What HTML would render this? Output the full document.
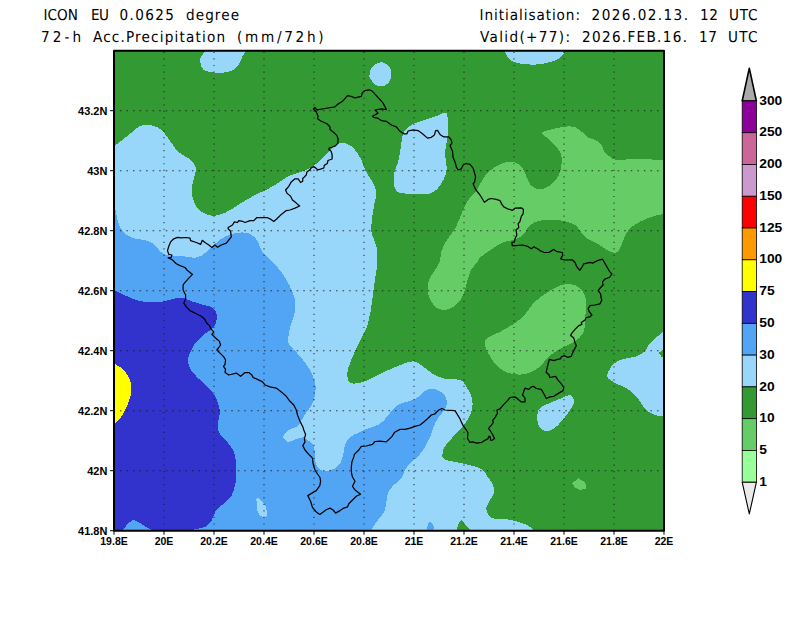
<!DOCTYPE html>
<html lang="en"><head><meta charset="utf-8"><title>ICON EU 72-h Acc.Precipitation</title>
<style>
html,body{margin:0;padding:0;background:#fff;}
body{width:800px;height:618px;position:relative;overflow:hidden;font-family:"Liberation Sans",Arial,sans-serif;}
</style></head><body>
<svg width="800" height="618" viewBox="0 0 800 618" style="position:absolute;left:0;top:0">
<rect width="800" height="618" fill="#fff"/>
<defs><clipPath id="pc"><rect x="114.0" y="50.7" width="550.0" height="480.0"/></clipPath></defs>
<g clip-path="url(#pc)" shape-rendering="crispEdges">
<rect x="114.0" y="50.7" width="550.0" height="480.0" fill="#339933"/>
<path d="M480.0,184.3C481.2,182.4 484.6,176.1 487.5,173.0C490.4,169.9 494.2,167.4 497.6,165.5C501.0,163.6 504.5,162.1 507.6,161.7C510.7,161.3 513.9,161.8 516.4,162.9C518.9,164.0 521.0,165.7 522.7,168.0C524.4,170.3 525.1,174.0 526.4,176.7C527.6,179.4 528.3,182.2 530.2,184.3C532.1,186.4 534.8,188.9 537.7,189.3C540.6,189.7 544.7,188.5 547.8,186.8C550.9,185.1 554.3,182.2 556.5,179.3C558.7,176.4 559.9,172.8 560.8,169.2C561.6,165.6 561.9,161.0 561.6,157.9C561.3,154.8 560.9,153.3 559.0,150.4C557.1,147.5 553.1,143.3 550.3,140.4C547.5,137.5 541.8,134.7 542.2,132.8C542.6,130.9 548.9,130.1 552.8,129.1C556.6,128.1 561.5,126.9 565.3,126.6C569.1,126.3 572.5,126.3 575.4,127.3C578.3,128.3 580.8,131.1 582.9,132.8C585.0,134.5 585.8,136.1 587.9,137.3C590.0,138.5 593.1,138.6 595.4,139.9C597.7,141.2 600.2,143.4 601.7,145.4C603.2,147.4 602.7,149.7 604.2,151.7C605.7,153.7 608.4,155.9 610.5,157.2C612.6,158.5 612.6,159.4 616.8,159.7C621.0,160.0 629.1,159.2 635.6,159.2C642.1,159.2 650.3,159.4 655.7,159.7C661.1,160.0 666.0,160.8 668.0,161.0L668.0,213.0C665.5,213.6 657.7,214.9 653.1,216.3C648.5,217.7 644.4,219.5 640.6,221.4C636.9,223.3 633.1,225.3 630.6,227.6C628.1,229.9 627.0,232.5 625.5,235.2C624.0,237.9 623.0,241.3 621.8,244.0C620.5,246.7 619.5,250.1 618.0,251.5C616.5,252.9 615.1,253.1 613.0,252.7C610.9,252.3 608.0,250.4 605.5,249.0C603.0,247.6 600.8,245.7 597.9,244.0C595.0,242.3 590.6,240.8 587.9,238.9C585.2,237.0 583.7,235.0 581.6,232.7C579.5,230.4 578.1,227.0 575.4,225.1C572.7,223.2 569.1,222.3 565.3,221.4C561.5,220.5 557.0,219.7 552.8,219.6C548.6,219.5 544.0,219.7 540.2,220.6C536.4,221.5 533.1,222.7 530.2,225.1C527.3,227.5 525.6,232.7 522.7,235.2C519.8,237.7 516.0,238.9 512.6,240.2C509.2,241.4 506.4,241.0 502.6,242.7C498.8,244.4 493.8,247.7 490.0,250.2C486.2,252.7 482.2,255.7 480.0,257.8C477.8,259.9 478.6,260.7 477.0,262.8C475.4,264.9 472.4,267.0 470.7,270.3C469.0,273.6 468.2,278.6 466.9,282.8C465.6,287.0 464.8,291.8 463.1,295.4C461.4,299.0 459.4,301.9 456.9,304.2C454.4,306.5 451.0,308.4 448.1,309.2C445.2,310.0 441.8,310.0 439.3,309.2C436.8,308.4 434.8,306.5 433.0,304.2C431.2,301.9 429.3,299.0 428.5,295.4C427.7,291.8 427.2,286.6 428.0,282.8C428.8,279.0 431.1,276.1 433.0,272.8C434.9,269.5 437.8,266.6 439.3,262.8C440.8,259.0 440.6,254.0 441.8,250.2C443.1,246.4 444.5,244.0 446.8,240.2C449.1,236.4 453.1,232.2 455.6,227.6C458.1,223.0 459.8,217.2 461.9,212.6C464.0,208.0 465.7,203.8 468.2,200.0C470.7,196.2 475.0,192.6 477.0,190.0C479.0,187.4 479.5,185.2 480.0,184.3Z" fill="#66cc66"/>
<path d="M485.0,345.0C484.6,341.9 485.0,340.2 487.5,338.0C490.0,335.8 495.4,334.3 500.0,331.8C504.6,329.3 510.9,325.9 515.1,323.0C519.3,320.1 522.3,317.3 525.2,314.2C528.1,311.1 529.8,307.3 532.7,304.2C535.6,301.1 538.9,298.1 542.7,295.4C546.5,292.7 551.5,289.8 555.3,287.9C559.1,286.0 561.9,284.5 565.3,284.1C568.6,283.7 572.5,284.1 575.4,285.4C578.3,286.6 581.1,289.1 582.9,291.6C584.6,294.1 585.5,296.4 585.9,300.4C586.3,304.4 585.7,310.5 585.4,315.5C585.1,320.5 585.1,326.8 584.1,330.5C583.1,334.2 581.4,335.8 579.1,338.0C576.8,340.2 573.8,341.8 570.3,343.8C566.8,345.8 561.5,347.8 557.8,350.1C554.0,352.4 550.5,355.1 547.8,357.6C545.1,360.1 544.0,362.8 541.5,365.1C539.0,367.4 536.2,369.8 532.7,371.4C529.2,373.0 524.4,374.4 520.2,374.6C516.0,374.8 511.4,374.0 507.6,372.6C503.8,371.2 500.5,369.1 497.6,366.4C494.7,363.7 492.1,359.9 490.0,356.3C487.9,352.7 485.4,348.1 485.0,345.0Z" fill="#66cc66"/>
<path d="M578.4,478.2 L585.4,482.7 L585.9,489.0 L579.1,489.8 L574.9,487.3 L572.3,483.2Z" fill="#66cc66"/>
<path d="M110.0,148.0C110.8,147.6 112.5,147.1 115.0,145.4C117.5,143.7 122.3,139.9 125.0,137.8C127.7,135.7 128.8,134.8 131.2,132.9C133.6,131.0 136.9,127.8 139.3,126.4C141.7,125.1 143.4,124.9 145.8,124.8C148.2,124.7 151.5,125.2 153.9,125.9C156.3,126.6 158.3,127.7 160.0,128.8C161.7,130.0 162.1,130.5 164.0,132.8C165.9,135.2 169.2,139.8 171.5,142.9C173.8,146.0 175.1,149.1 177.8,151.6C180.5,154.1 185.1,155.8 187.8,157.9C190.5,160.0 192.8,162.1 194.1,164.2C195.4,166.3 196.0,167.8 195.9,170.5C195.8,173.2 194.0,177.2 193.3,180.5C192.6,183.8 191.6,187.2 191.6,190.5C191.6,193.8 192.2,196.9 193.3,200.0C194.4,203.1 195.9,206.5 197.9,208.8C199.9,211.1 202.7,212.6 205.4,213.8C208.1,215.0 210.8,216.0 214.2,215.8C217.5,215.6 221.5,214.4 225.5,212.6C229.5,210.8 233.8,207.5 238.0,205.0C242.2,202.5 246.0,200.0 250.6,197.5C255.2,195.0 261.5,192.1 265.6,190.0C269.7,187.9 271.6,187.0 275.0,185.0C278.4,183.0 283.2,179.6 285.7,178.0C288.2,176.4 286.8,176.8 290.0,175.5C293.2,174.2 300.4,172.6 305.0,170.5C309.6,168.4 313.8,165.9 317.6,163.0C321.4,160.1 324.7,155.8 327.6,152.9C330.5,150.0 332.7,147.1 335.2,145.4C337.7,143.7 340.2,142.9 342.7,142.9C345.2,142.9 347.9,143.9 350.2,145.4C352.5,146.9 354.6,149.2 356.5,151.7C358.4,154.2 360.0,157.3 361.5,160.4C363.0,163.5 363.6,167.2 365.3,170.5C367.0,173.8 369.9,177.4 371.6,180.5C373.4,183.6 375.1,186.6 375.8,189.3C376.5,192.1 376.3,194.4 376.0,197.0C375.7,199.6 374.8,200.7 374.1,205.0C373.4,209.3 372.0,218.0 371.6,222.6C371.2,227.2 370.8,228.5 371.6,232.7C372.4,236.9 375.7,242.7 376.6,247.7C377.6,252.7 377.5,257.8 377.3,262.8C377.1,267.8 376.1,272.4 375.3,277.8C374.6,283.2 373.6,289.5 372.8,295.4C372.0,301.3 371.4,307.6 370.3,313.0C369.2,318.4 367.9,324.0 366.5,328.0C365.1,332.0 363.5,334.0 362.0,337.0C360.5,340.0 359.5,341.7 357.5,346.0C355.5,350.3 351.9,358.0 350.2,362.6C348.5,367.2 347.2,370.5 347.2,373.9C347.2,377.2 348.0,381.2 350.2,382.7C352.4,384.2 356.5,383.5 360.3,382.7C364.1,381.9 368.6,379.6 372.8,377.7C377.0,375.8 380.8,373.5 385.4,371.4C390.0,369.3 395.8,366.8 400.4,365.1C405.0,363.4 409.2,361.1 413.0,361.3C416.8,361.5 419.7,364.3 423.0,366.4C426.3,368.5 429.2,371.8 433.0,373.9C436.8,376.0 441.0,377.8 445.6,378.9C450.2,379.9 457.1,378.7 460.6,380.2C464.2,381.7 465.0,384.8 466.9,387.7C468.8,390.6 471.1,393.9 471.9,397.7C472.7,401.5 472.9,406.1 471.9,410.3C470.9,414.5 468.4,418.8 465.7,422.8C463.0,426.8 459.0,430.3 455.6,434.1C452.2,437.9 447.8,442.3 445.6,445.4C443.4,448.5 442.8,450.6 442.6,452.9C442.4,455.2 441.3,457.5 444.3,459.2C447.3,460.9 455.4,461.8 460.6,463.0C465.8,464.2 471.9,465.5 475.7,466.7C479.5,467.9 481.2,468.6 483.2,470.2C485.2,471.8 485.9,474.2 487.5,476.5C489.1,478.8 491.4,481.3 492.5,484.0C493.6,486.7 494.2,490.1 493.8,492.8C493.4,495.5 491.2,497.8 490.0,500.3C488.8,502.8 486.5,505.3 486.3,507.8C486.1,510.3 487.3,513.5 488.8,515.4C490.3,517.3 492.4,518.5 495.1,519.1C497.8,519.7 501.4,518.7 505.1,519.1C508.9,519.5 513.8,520.6 517.6,521.6C521.4,522.6 525.1,524.0 527.7,525.4C530.3,526.8 531.8,528.3 533.2,529.7C534.6,531.1 535.5,533.3 536.0,534.0L110.0,534.0Z" fill="#98d6fa"/>
<path d="M206.5,47.0C206.2,47.8 205.4,50.8 204.8,51.9C204.2,53.0 203.8,52.9 203.1,53.8C202.4,54.7 201.1,56.0 200.6,57.5C200.1,59.0 200.1,60.8 200.3,62.5C200.5,64.2 201.1,66.2 201.9,67.5C202.7,68.8 203.2,69.8 205.0,70.6C206.8,71.4 209.8,71.9 212.5,72.3C215.2,72.7 218.4,73.0 221.3,72.8C224.2,72.6 227.5,72.2 230.0,71.3C232.5,70.4 234.6,69.0 236.3,67.5C238.0,66.0 239.1,64.2 240.0,62.5C240.9,60.8 241.1,59.3 241.9,57.5C242.7,55.7 244.2,53.6 245.0,51.9C245.8,50.1 246.7,47.8 247.0,47.0Z" fill="#98d6fa"/>
<path d="M382.5,62.1C384.8,62.4 387.3,64.7 388.8,66.3C390.3,67.9 391.0,69.8 391.3,71.9C391.6,74.0 391.2,76.8 390.6,78.8C390.0,80.8 388.9,82.5 387.5,83.8C386.1,85.0 384.0,86.2 381.9,86.3C379.8,86.4 376.9,85.7 375.0,84.4C373.1,83.2 371.5,80.2 370.6,78.8C369.7,77.4 369.4,77.8 369.4,76.3C369.4,74.8 369.7,72.0 370.6,70.0C371.5,68.0 373.0,65.7 375.0,64.4C377.0,63.1 380.2,61.8 382.5,62.1Z" fill="#98d6fa"/>
<path d="M404.2,131.6C406.1,128.9 409.4,126.0 413.0,124.0C416.6,122.0 421.3,121.2 425.5,119.8C429.7,118.3 434.8,116.5 438.1,115.3C441.5,114.1 444.0,112.4 445.6,112.8C447.2,113.2 447.2,114.5 447.6,117.8C448.0,121.1 448.4,128.2 448.1,132.8C447.9,137.4 446.6,141.6 446.1,145.4C445.6,149.2 445.0,151.6 445.1,155.4C445.2,159.2 446.9,164.2 446.8,168.0C446.7,171.8 445.8,174.7 444.3,178.0C442.9,181.3 440.6,185.4 438.1,188.0C435.6,190.6 433.5,192.7 429.3,193.6C425.1,194.5 418.0,193.8 413.0,193.6C408.0,193.4 402.3,193.9 399.2,192.6C396.1,191.2 395.0,188.8 394.1,185.5C393.2,182.2 393.5,176.8 394.1,173.0C394.7,169.2 396.8,166.8 397.9,163.0C398.9,159.2 399.8,154.2 400.4,150.4C401.0,146.6 401.1,143.5 401.7,140.4C402.3,137.3 402.3,134.3 404.2,131.6Z" fill="#98d6fa"/>
<path d="M504.5,47.0C504.6,47.8 504.4,50.0 505.1,52.0C505.8,54.0 506.8,56.9 508.9,58.8C511.0,60.6 513.2,62.1 517.6,63.1C522.0,64.1 529.3,64.9 535.2,64.6C541.1,64.3 548.4,62.7 552.8,61.3C557.2,59.9 559.7,57.8 561.6,56.3C563.5,54.8 563.5,53.5 564.1,52.0C564.7,50.5 564.9,47.8 565.0,47.0Z" fill="#98d6fa"/>
<path d="M570.3,395.2C572.2,395.7 573.9,398.6 574.1,400.7C574.3,402.8 573.1,405.1 571.6,407.8C570.1,410.5 567.6,413.7 565.3,416.6C563.0,419.5 560.3,423.0 557.8,425.3C555.3,427.6 552.8,429.6 550.3,430.4C547.8,431.2 544.7,430.9 542.7,429.9C540.7,428.8 539.1,426.5 538.2,424.1C537.3,421.7 536.9,418.0 537.2,415.3C537.5,412.6 538.0,409.9 540.2,407.8C542.4,405.7 546.5,404.5 550.3,402.8C554.1,401.1 559.5,399.0 562.8,397.7C566.1,396.4 568.4,394.7 570.3,395.2Z" fill="#98d6fa"/>
<path d="M668.0,327.0C667.2,327.8 665.1,330.0 663.3,331.6C661.5,333.2 659.2,335.0 657.0,336.9C654.8,338.8 651.7,341.1 649.9,343.2C648.1,345.3 647.5,347.8 646.3,349.4C645.1,351.0 644.6,351.8 642.8,353.0C641.0,354.2 638.4,355.6 635.7,356.5C633.0,357.4 629.7,357.6 626.7,358.3C623.7,359.1 620.3,359.7 617.8,361.0C615.3,362.3 613.4,363.9 611.6,366.3C609.8,368.7 607.4,373.1 607.1,375.3C606.8,377.5 608.0,378.2 609.8,379.7C611.6,381.2 614.7,382.6 617.8,384.2C620.9,385.8 625.5,387.6 628.5,389.5C631.5,391.4 633.6,393.6 635.7,395.8C637.8,398.0 639.4,400.7 641.0,402.9C642.6,405.1 643.7,407.3 645.5,409.1C647.3,410.9 649.5,412.5 651.7,413.6C653.9,414.7 656.1,415.4 658.8,415.9C661.5,416.3 666.5,416.2 668.0,416.3Z" fill="#98d6fa"/>
<path d="M658.8,353L664.5,348.6L664.5,359L661.5,356.5Z" fill="#339933"/>
<path d="M110.0,195.0C110.8,197.1 113.7,203.4 115.0,207.6C116.3,211.8 116.3,216.0 117.6,220.0C118.9,224.0 120.1,228.5 122.6,231.4C125.1,234.3 128.8,236.2 132.6,237.7C136.4,239.2 142.3,239.5 145.2,240.2C148.1,240.9 148.4,241.1 150.0,241.9C151.6,242.7 153.3,243.4 155.0,245.0C156.7,246.6 158.1,249.6 160.0,251.3C161.9,253.0 163.8,254.2 166.3,255.0C168.8,255.8 171.9,255.8 175.0,256.0C178.1,256.2 181.9,256.2 185.0,256.5C188.1,256.8 191.3,257.8 193.8,257.8C196.3,257.8 198.1,257.1 200.0,256.3C201.9,255.5 203.3,254.5 205.0,253.1C206.7,251.7 208.3,249.6 210.0,248.1C211.7,246.6 213.1,245.4 215.0,243.8C216.9,242.2 219.2,240.2 221.3,238.8C223.4,237.4 225.2,236.6 227.5,235.6C229.8,234.6 232.5,233.6 235.0,233.1C237.5,232.6 240.0,232.4 242.5,232.5C245.0,232.6 247.6,232.5 250.0,233.8C252.4,235.1 254.6,237.0 256.8,240.2C259.0,243.3 260.4,248.9 263.1,252.7C265.8,256.5 270.1,259.4 273.2,262.8C276.3,266.2 279.2,269.0 281.9,272.8C284.6,276.6 287.4,281.2 289.5,285.4C291.6,289.6 293.6,293.7 294.5,297.9C295.4,302.1 295.8,305.9 295.2,310.5C294.6,315.1 291.9,320.9 290.7,325.5C289.5,330.1 288.4,334.8 288.2,338.0C288.0,341.2 287.5,341.9 289.5,345.0C291.5,348.1 296.6,352.1 300.0,356.3C303.4,360.5 307.5,365.7 310.0,370.1C312.5,374.5 314.2,378.5 315.1,382.7C316.0,386.9 315.5,391.8 315.1,395.2C314.7,398.6 313.4,400.9 312.5,403.0C311.6,405.1 311.0,405.9 310.0,407.5C309.0,409.1 307.6,410.6 306.3,412.5C305.1,414.4 304.0,416.5 302.5,418.8C301.0,421.1 299.6,424.5 297.5,426.3C295.4,428.1 292.1,428.1 290.0,429.4C287.9,430.6 286.2,432.4 285.0,433.8C283.8,435.2 282.5,436.2 283.0,437.5C283.5,438.8 286.2,441.5 288.2,441.8C290.2,442.1 293.0,440.1 295.0,439.5C297.0,438.9 298.5,438.4 300.0,438.1C301.5,437.8 302.1,436.9 303.8,437.5C305.5,438.1 308.3,440.4 310.0,441.9C311.7,443.4 313.0,444.1 313.8,446.3C314.6,448.5 314.7,452.3 315.0,455.0C315.3,457.7 315.1,460.3 315.6,462.5C316.1,464.7 317.0,466.8 318.1,468.1C319.2,469.5 320.5,470.2 322.5,470.6C324.5,471.0 327.7,470.8 330.0,470.3C332.3,469.8 334.5,468.8 336.3,467.5C338.1,466.2 339.5,464.6 340.6,462.5C341.7,460.4 342.5,457.5 343.1,455.0C343.7,452.5 343.8,449.8 344.4,447.5C345.0,445.2 345.8,443.2 346.9,441.3C348.0,439.4 349.5,437.7 351.3,436.3C353.1,434.9 355.4,434.2 357.5,433.1C359.6,432.1 361.4,431.0 363.8,430.0C366.2,429.0 369.3,428.0 372.0,427.0C374.7,426.0 377.4,425.6 380.0,423.8C382.6,422.0 385.4,418.6 387.5,416.3C389.6,414.0 390.6,412.0 392.5,410.0C394.4,408.0 396.1,405.8 398.8,404.4C401.5,402.9 405.7,402.4 408.8,401.3C411.9,400.2 415.0,399.1 417.5,397.5C420.0,395.9 421.7,393.3 423.8,391.9C425.9,390.5 427.7,389.3 430.0,389.0C432.3,388.7 435.2,389.1 437.5,390.0C439.8,390.9 442.3,392.7 443.8,394.4C445.3,396.1 446.1,398.0 446.5,400.0C446.9,402.0 447.0,404.2 446.3,406.3C445.6,408.4 444.0,410.4 442.5,412.5C441.0,414.6 438.9,416.5 437.5,418.8C436.1,421.1 434.8,423.8 433.8,426.3C432.8,428.8 432.2,431.3 431.3,433.8C430.4,436.3 429.4,438.8 428.1,441.3C426.9,443.8 425.6,446.2 423.8,448.8C422.0,451.4 420.1,454.3 417.5,457.0C414.9,459.7 410.3,462.2 407.9,465.2C405.5,468.2 404.2,472.7 402.9,475.2C401.6,477.7 401.5,478.4 400.0,480.0C398.5,481.6 395.7,483.1 393.8,485.0C391.9,486.9 390.0,489.2 388.8,491.3C387.6,493.4 387.3,495.6 386.9,497.5C386.5,499.4 386.7,500.2 386.3,502.5C385.9,504.8 385.4,508.8 384.4,511.3C383.3,513.8 381.6,515.4 380.0,517.5C378.4,519.6 376.4,521.8 375.0,523.8C373.6,525.8 372.7,527.5 371.9,529.4C371.1,531.3 370.3,534.1 370.0,535.0L110.0,535.0Z" fill="#52a5f5"/>
<path d="M256.8,497.8C257.4,497.0 259.1,498.8 260.6,500.3C262.1,501.8 264.6,504.1 265.6,506.6C266.7,509.1 267.3,513.6 266.9,515.4C266.5,517.2 264.6,517.8 263.1,517.4C261.6,517.0 259.2,514.8 258.1,512.8C257.1,510.8 257.0,507.8 256.8,505.3C256.6,502.8 256.2,498.6 256.8,497.8Z" fill="#98d6fa"/>
<path d="M430.0,521.0 L432.5,524.0 L434.0,527.0 L432.5,532.0 L427.5,532.0 L427.0,526.5 L428.5,523.5Z" fill="#52a5f5"/>
<path d="M461.0,520.0 L463.5,522.5 L470.0,530.0 L470.0,532.0 L456.0,532.0 L458.0,525.0Z" fill="#339933"/>
<path d="M110.0,288.0C110.8,288.4 112.5,289.2 115.0,290.4C117.5,291.6 121.3,293.7 125.1,295.4C128.9,297.1 133.4,299.2 137.6,300.4C141.8,301.6 146.0,302.2 150.2,302.4C154.4,302.6 158.5,302.4 162.7,301.7C166.9,301.0 172.0,299.0 175.3,298.4C178.7,297.8 179.9,297.3 182.8,297.9C185.7,298.4 189.0,300.4 192.8,301.7C196.6,302.9 202.1,304.4 205.4,305.4C208.8,306.4 211.0,306.4 212.9,307.9C214.8,309.4 216.2,311.7 216.7,314.2C217.2,316.7 216.7,320.5 215.9,323.0C215.1,325.5 213.7,327.4 211.7,329.3C209.7,331.2 206.4,332.4 204.1,334.3C201.8,336.2 199.6,338.8 197.9,340.6C196.2,342.4 195.6,342.6 194.1,345.0C192.6,347.4 190.1,352.0 189.1,355.1C188.1,358.2 187.7,361.0 188.3,363.9C188.9,366.8 190.4,369.5 192.8,372.6C195.2,375.7 199.6,379.4 202.9,382.7C206.2,386.0 210.4,389.3 212.9,392.7C215.4,396.1 216.7,399.4 217.9,402.8C219.1,406.2 219.9,409.5 219.9,412.8C219.9,416.1 218.0,419.5 217.9,422.8C217.8,426.1 217.5,429.5 219.2,432.9C220.9,436.2 225.5,439.6 228.0,442.9C230.5,446.2 232.9,448.8 234.3,452.9C235.7,457.0 236.1,462.7 236.3,467.7C236.5,472.7 236.3,478.1 235.5,482.7C234.7,487.3 233.8,491.7 231.7,495.3C229.6,498.9 225.7,501.4 223.0,504.1C220.3,506.8 217.3,508.9 215.4,511.6C213.5,514.3 213.4,517.9 211.7,520.4C210.0,522.9 208.6,525.0 205.4,526.6C202.2,528.2 196.2,528.8 192.8,529.7C189.4,530.6 186.3,531.6 185.0,532.0L185.0,535.0L110.0,535.0Z" fill="#3232cd"/>
<path d="M155.0,532.0C154.6,531.8 154.3,531.4 152.7,530.5C151.1,529.6 147.7,528.1 145.2,526.6C142.7,525.1 139.7,522.6 137.6,521.6C135.5,520.6 134.3,520.0 132.6,520.4C130.9,520.8 129.3,522.4 127.6,524.1C125.9,525.8 123.7,529.0 122.6,530.5C121.5,532.0 121.3,532.6 121.0,533.0Z" fill="#52a5f5"/>
<path d="M110.0,361.0C110.8,361.5 112.4,362.6 114.5,363.9C116.6,365.2 120.2,366.6 122.6,368.9C125.0,371.2 127.4,374.6 128.9,377.7C130.4,380.8 131.2,384.4 131.4,387.7C131.6,391.0 130.9,394.3 130.1,397.7C129.2,401.1 127.8,404.6 126.3,407.8C124.8,411.0 123.3,413.9 121.3,416.6C119.3,419.3 116.4,422.2 114.5,424.1C112.6,426.0 110.8,427.4 110.0,428.0Z" fill="#ffff00"/>
</g>
<g stroke="#1a1a1a" stroke-opacity="0.85" stroke-width="1.1" fill="none">
<g stroke-dasharray="1.2 5.350">
<line x1="164.00" y1="531.15" x2="164.00" y2="50.7"/>
<line x1="214.00" y1="531.15" x2="214.00" y2="50.7"/>
<line x1="264.00" y1="531.15" x2="264.00" y2="50.7"/>
<line x1="314.00" y1="531.15" x2="314.00" y2="50.7"/>
<line x1="364.00" y1="531.15" x2="364.00" y2="50.7"/>
<line x1="414.00" y1="531.15" x2="414.00" y2="50.7"/>
<line x1="464.00" y1="531.15" x2="464.00" y2="50.7"/>
<line x1="514.00" y1="531.15" x2="514.00" y2="50.7"/>
<line x1="564.00" y1="531.15" x2="564.00" y2="50.7"/>
<line x1="614.00" y1="531.15" x2="614.00" y2="50.7"/>
</g>
<g stroke-dasharray="1.5 5.050">
<line x1="113.35" y1="470.70" x2="664.0" y2="470.70"/>
<line x1="113.35" y1="410.70" x2="664.0" y2="410.70"/>
<line x1="113.35" y1="350.70" x2="664.0" y2="350.70"/>
<line x1="113.35" y1="290.70" x2="664.0" y2="290.70"/>
<line x1="113.35" y1="230.70" x2="664.0" y2="230.70"/>
<line x1="113.35" y1="170.70" x2="664.0" y2="170.70"/>
<line x1="113.35" y1="110.70" x2="664.0" y2="110.70"/>
</g>
</g>
<path d="M313.5,109.0 L314.8,107.3 L316.9,109.8 L325.0,108.5 L335.0,106.9 L337.5,104.4 L342.5,101.3 L347.5,95.6 L350.0,96.0 L355.0,97.8 L361.3,96.3 L362.5,92.5 L365.0,90.6 L369.4,89.8 L372.5,91.3 L377.5,96.9 L383.1,103.1 L385.0,106.9 L386.3,109.6 L381.3,108.8 L375.0,110.0 L378.1,113.1 L372.5,116.3 L373.8,117.5 L377.5,118.1 L381.3,120.6 L386.3,121.3 L391.3,125.0 L396.3,126.9 L400.0,131.3 L403.8,133.8 L406.9,133.8 L408.1,131.0 L413.1,129.8 L418.1,130.6 L422.5,133.8 L427.5,138.1 L431.3,137.3 L434.4,135.0 L435.6,130.6 L437.5,130.3 L440.0,134.4 L443.8,136.9 L448.8,136.9 L451.3,140.0 L451.9,143.1 L450.0,145.6 L452.5,151.3 L453.1,157.5 L455.0,161.9 L456.3,166.9 L458.1,170.0 L461.3,168.8 L463.1,165.0 L466.3,163.5 L470.0,164.4 L473.1,168.1 L474.4,172.5 L475.6,176.9 L474.4,182.5 L473.1,183.8 L475.6,189.4 L480.0,195.0 L483.1,200.0 L484.4,202.3 L488.1,199.4 L491.3,198.5 L496.3,199.4 L500.0,200.6 L501.9,204.4 L503.8,206.9 L507.5,208.8 L512.5,210.3 L515.0,208.1 L521.3,207.8 L523.5,209.4 L523.1,213.8 L521.3,216.3 L520.0,221.3 L518.1,223.8 L518.8,227.5 L516.0,230.0 L516.9,235.0 L515.0,238.8 L514.4,241.9 L511.9,242.5 L512.3,245.6 L515.6,245.6 L522.5,245.0 L527.5,246.3 L531.3,248.8 L533.8,246.9 L537.5,248.8 L540.0,250.6 L543.8,252.3 L548.8,252.5 L553.8,249.4 L556.3,251.3 L562.5,252.5 L562.5,255.6 L560.6,258.8 L565.0,260.0 L572.5,259.8 L575.0,262.5 L576.9,266.9 L579.8,270.3 L582.5,266.3 L583.8,263.8 L590.0,262.3 L592.5,263.1 L597.5,260.6 L602.5,259.1 L604.4,262.5 L606.9,266.9 L609.4,271.3 L611.9,274.0 L609.4,277.5 L605.0,279.0 L602.5,281.9 L603.1,285.0 L599.4,288.8 L598.1,290.6 L600.6,293.8 L601.3,298.8 L601.9,300.0 L600.0,303.8 L595.0,305.0 L590.0,305.6 L588.1,308.8 L589.4,311.9 L591.9,315.0 L590.0,316.9 L586.3,317.5 L585.0,320.0 L581.3,322.5 L581.9,324.4 L578.8,325.6 L575.0,329.4 L571.9,333.1 L570.6,335.6 L573.8,338.1 L575.0,342.5 L576.3,345.6 L574.4,349.4 L572.5,353.1 L571.3,356.3 L567.5,357.3 L564.4,355.6 L561.3,356.9 L560.6,358.8 L557.5,359.4 L553.8,360.6 L549.4,359.4 L548.1,363.8 L546.9,368.8 L546.2,372.5 L548.8,374.4 L549.8,377.5 L555.6,376.3 L557.5,379.4 L561.3,383.8 L563.8,387.5 L563.1,390.6 L558.8,393.1 L553.8,396.3 L550.0,396.9 L546.3,398.5 L543.8,393.8 L541.3,389.4 L536.3,388.5 L533.8,386.4 L531.3,386.9 L528.8,389.4 L525.0,388.1 L523.8,391.3 L522.5,395.0 L525.0,398.1 L525.0,401.9 L521.3,401.9 L517.5,398.8 L515.0,396.9 L510.0,397.5 L507.5,400.6 L503.8,404.4 L500.0,408.8 L496.9,410.0 L497.5,413.0 L495.3,417.1 L492.6,420.5 L493.4,422.4 L490.8,425.8 L488.5,428.4 L490.4,431.0 L492.3,434.0 L493.4,436.3 L494.5,438.4 L492.6,440.0 L490.8,440.4 L490.0,436.6 L488.9,436.3 L487.8,438.9 L484.8,440.4 L481.8,442.3 L476.5,443.2 L472.8,441.9 L469.8,442.3 L467.5,438.5 L467.9,432.5 L466.0,429.5 L463.4,426.1 L461.5,422.4 L460.0,418.8 L455.0,410.6 L450.0,410.3 L445.0,410.0 L441.9,408.5 L438.8,410.0 L435.0,413.8 L431.3,415.0 L427.5,418.8 L423.8,421.9 L420.0,425.0 L415.0,426.3 L410.0,428.1 L405.0,429.4 L400.0,429.4 L394.7,432.2 L391.9,436.6 L386.3,441.9 L380.0,441.2 L375.0,441.5 L372.5,444.4 L366.3,446.0 L361.3,446.3 L358.8,450.0 L354.4,454.4 L353.8,456.9 L351.9,461.9 L351.3,467.5 L351.5,473.1 L352.5,477.0 L355.0,481.3 L352.5,486.3 L355.0,490.0 L360.6,494.2 L356.6,496.0 L352.5,500.0 L348.8,503.8 L347.5,506.9 L343.8,508.1 L340.0,510.6 L335.6,513.1 L333.1,510.0 L330.0,508.1 L326.3,509.8 L322.5,512.5 L319.8,514.4 L316.3,511.9 L312.5,507.5 L310.6,501.3 L307.8,495.6 L311.9,493.1 L316.3,490.6 L319.8,485.6 L320.6,481.3 L320.0,477.5 L317.5,474.0 L315.0,470.0 L313.1,463.8 L312.5,458.1 L308.8,454.4 L305.0,450.0 L302.8,445.6 L305.0,441.9 L304.4,438.8 L305.6,434.4 L303.8,430.0 L303.1,427.5 L300.0,421.3 L297.5,415.0 L296.3,410.0 L293.8,405.0 L290.0,401.3 L286.3,396.3 L281.3,391.9 L276.3,388.1 L270.0,386.9 L265.0,385.0 L262.5,381.9 L257.5,379.4 L253.1,377.5 L251.9,375.0 L248.8,372.5 L245.0,372.5 L240.6,376.3 L236.3,373.1 L228.8,375.0 L225.0,372.5 L225.6,369.4 L223.5,366.3 L225.0,364.4 L225.6,360.0 L223.8,356.9 L220.0,353.1 L216.9,350.0 L218.8,347.5 L220.6,345.0 L219.4,341.3 L215.0,337.5 L211.9,334.4 L213.8,331.9 L211.3,329.4 L209.4,325.6 L206.3,322.5 L205.0,319.4 L201.3,316.3 L196.3,313.8 L190.0,310.6 L186.3,306.9 L183.8,303.1 L185.6,299.4 L185.6,295.0 L183.1,290.0 L183.1,285.0 L184.4,283.1 L188.8,278.1 L192.5,274.4 L187.5,270.6 L185.0,267.5 L180.0,265.6 L176.3,263.8 L173.1,260.6 L170.6,258.8 L168.1,257.8 L171.3,257.3 L171.9,255.0 L168.8,254.4 L167.5,250.6 L168.8,246.3 L170.6,241.9 L173.8,238.8 L177.5,237.3 L181.3,237.9 L186.3,237.5 L190.0,238.1 L190.6,240.6 L196.3,242.5 L200.6,244.4 L202.3,240.3 L205.0,242.5 L208.8,245.0 L211.9,247.5 L215.0,245.0 L217.5,247.3 L221.3,245.0 L226.3,243.1 L228.8,240.0 L231.3,236.9 L230.6,231.3 L228.1,228.8 L228.1,227.5 L232.5,225.0 L234.4,221.9 L237.5,222.5 L238.8,220.6 L242.5,221.3 L245.0,222.5 L250.0,220.6 L253.8,220.6 L256.9,217.5 L261.3,217.5 L266.9,217.5 L270.0,218.8 L273.8,221.5 L276.9,218.8 L281.3,214.4 L286.3,210.6 L290.0,210.0 L295.0,208.1 L299.6,206.0 L296.3,203.1 L292.5,200.0 L290.6,196.3 L286.9,193.1 L285.6,190.0 L288.8,186.3 L291.3,181.9 L295.0,178.8 L298.1,178.8 L300.6,182.5 L302.7,181.2 L302.8,178.3 L304.4,177.0 L306.3,174.8 L306.9,172.0 L309.6,170.0 L311.1,168.0 L313.5,166.6 L315.6,167.9 L317.5,169.8 L320.5,169.2 L323.9,168.0 L324.3,165.4 L327.3,163.5 L328.0,160.5 L332.1,159.0 L332.1,154.5 L331.0,151.1 L328.8,149.6 L329.5,147.8 L332.5,147.0 L335.5,145.9 L337.8,143.3 L338.1,138.8 L336.8,135.4 L333.8,132.5 L330.0,129.4 L330.0,126.9 L326.9,123.8 L321.3,121.3 L317.5,118.8 L318.1,116.3 L316.3,111.9Z" fill="none" stroke="#000" stroke-width="1.25" stroke-linejoin="round"/>
<rect x="114.0" y="50.7" width="550.0" height="480.0" fill="none" stroke="#000" stroke-width="2" stroke-linejoin="round"/>
<g stroke="#000" stroke-width="1">
<line x1="114.00" y1="530.7" x2="114.00" y2="534.7"/>
<line x1="164.00" y1="530.7" x2="164.00" y2="534.7"/>
<line x1="214.00" y1="530.7" x2="214.00" y2="534.7"/>
<line x1="264.00" y1="530.7" x2="264.00" y2="534.7"/>
<line x1="314.00" y1="530.7" x2="314.00" y2="534.7"/>
<line x1="364.00" y1="530.7" x2="364.00" y2="534.7"/>
<line x1="414.00" y1="530.7" x2="414.00" y2="534.7"/>
<line x1="464.00" y1="530.7" x2="464.00" y2="534.7"/>
<line x1="514.00" y1="530.7" x2="514.00" y2="534.7"/>
<line x1="564.00" y1="530.7" x2="564.00" y2="534.7"/>
<line x1="614.00" y1="530.7" x2="614.00" y2="534.7"/>
<line x1="664.00" y1="530.7" x2="664.00" y2="534.7"/>
<line x1="110.0" y1="530.70" x2="114.0" y2="530.70"/>
<line x1="110.0" y1="470.70" x2="114.0" y2="470.70"/>
<line x1="110.0" y1="410.70" x2="114.0" y2="410.70"/>
<line x1="110.0" y1="350.70" x2="114.0" y2="350.70"/>
<line x1="110.0" y1="290.70" x2="114.0" y2="290.70"/>
<line x1="110.0" y1="230.70" x2="114.0" y2="230.70"/>
<line x1="110.0" y1="170.70" x2="114.0" y2="170.70"/>
<line x1="110.0" y1="110.70" x2="114.0" y2="110.70"/>
</g>
<g font-family="'Liberation Sans', Arial, sans-serif" font-weight="bold" font-size="11.3px" fill="#000">
<text transform="translate(114.0,544.7) scale(0.93,1)" text-anchor="middle">19.8E</text>
<text transform="translate(164.0,544.7) scale(0.93,1)" text-anchor="middle">20E</text>
<text transform="translate(214.0,544.7) scale(0.93,1)" text-anchor="middle">20.2E</text>
<text transform="translate(264.0,544.7) scale(0.93,1)" text-anchor="middle">20.4E</text>
<text transform="translate(314.0,544.7) scale(0.93,1)" text-anchor="middle">20.6E</text>
<text transform="translate(364.0,544.7) scale(0.93,1)" text-anchor="middle">20.8E</text>
<text transform="translate(414.0,544.7) scale(0.93,1)" text-anchor="middle">21E</text>
<text transform="translate(464.0,544.7) scale(0.93,1)" text-anchor="middle">21.2E</text>
<text transform="translate(514.0,544.7) scale(0.93,1)" text-anchor="middle">21.4E</text>
<text transform="translate(564.0,544.7) scale(0.93,1)" text-anchor="middle">21.6E</text>
<text transform="translate(614.0,544.7) scale(0.93,1)" text-anchor="middle">21.8E</text>
<text transform="translate(664.0,544.7) scale(0.93,1)" text-anchor="middle">22E</text>
<text transform="translate(107.3,534.8) scale(0.97,1)" text-anchor="end">41.8N</text>
<text transform="translate(107.3,474.8) scale(0.97,1)" text-anchor="end">42N</text>
<text transform="translate(107.3,414.8) scale(0.97,1)" text-anchor="end">42.2N</text>
<text transform="translate(107.3,354.8) scale(0.97,1)" text-anchor="end">42.4N</text>
<text transform="translate(107.3,294.8) scale(0.97,1)" text-anchor="end">42.6N</text>
<text transform="translate(107.3,234.8) scale(0.97,1)" text-anchor="end">42.8N</text>
<text transform="translate(107.3,174.8) scale(0.97,1)" text-anchor="end">43N</text>
<text transform="translate(107.3,114.8) scale(0.97,1)" text-anchor="end">43.2N</text>
</g>
<g stroke="#000" stroke-width="0.8">
<polygon points="742.2,101.0 749.3,68.2 756.4,101.0" fill="#aaaaaa" stroke-linejoin="round" stroke-width="1.6"/>
<rect x="742.2" y="100.95" width="14.2" height="31.77" fill="#8c0099"/>
<rect x="742.2" y="132.72" width="14.2" height="31.77" fill="#cc6699"/>
<rect x="742.2" y="164.49" width="14.2" height="31.77" fill="#cc99cc"/>
<rect x="742.2" y="196.26" width="14.2" height="31.77" fill="#ff0000"/>
<rect x="742.2" y="228.03" width="14.2" height="31.77" fill="#ff9900"/>
<rect x="742.2" y="259.80" width="14.2" height="31.77" fill="#ffff00"/>
<rect x="742.2" y="291.57" width="14.2" height="31.77" fill="#3232cd"/>
<rect x="742.2" y="323.34" width="14.2" height="31.77" fill="#52a5f5"/>
<rect x="742.2" y="355.11" width="14.2" height="31.77" fill="#98d6fa"/>
<rect x="742.2" y="386.88" width="14.2" height="31.77" fill="#339933"/>
<rect x="742.2" y="418.65" width="14.2" height="31.77" fill="#66cc66"/>
<rect x="742.2" y="450.42" width="14.2" height="31.77" fill="#99ff99"/>
<polygon points="742.2,482.19 749.3,513.96 756.4,482.19" fill="#ebebeb" stroke-width="1.1" stroke-linejoin="round"/>
</g>
<g font-family="'Liberation Sans', Arial, sans-serif" font-weight="bold" font-size="13.3px" fill="#000">
<text transform="translate(759.2,104.5) scale(1.04,1)">300</text>
<text transform="translate(759.2,136.3) scale(1.04,1)">250</text>
<text transform="translate(759.2,168.1) scale(1.04,1)">200</text>
<text transform="translate(759.2,199.9) scale(1.04,1)">150</text>
<text transform="translate(759.2,231.6) scale(1.04,1)">125</text>
<text transform="translate(759.2,263.4) scale(1.04,1)">100</text>
<text transform="translate(759.2,295.2) scale(1.04,1)">75</text>
<text transform="translate(759.2,326.9) scale(1.04,1)">50</text>
<text transform="translate(759.2,358.7) scale(1.04,1)">30</text>
<text transform="translate(759.2,390.5) scale(1.04,1)">20</text>
<text transform="translate(759.2,422.2) scale(1.04,1)">10</text>
<text transform="translate(759.2,454.0) scale(1.04,1)">5</text>
<text transform="translate(759.2,485.8) scale(1.04,1)">1</text>
</g>
<g font-family="'DejaVu Sans', 'Liberation Sans', sans-serif" font-size="13.6px" fill="#000" text-rendering="geometricPrecision">
<text transform="translate(0,20.0) scale(1.00,1.10)" xml:space="preserve"><tspan x="43.6" textLength="34.4" lengthAdjust="spacing">ICON</tspan> <tspan x="91.0" textLength="18.0" lengthAdjust="spacing">EU</tspan> <tspan x="119.6" textLength="54.4" lengthAdjust="spacing">0.0625</tspan> <tspan x="186.0" textLength="53.0" lengthAdjust="spacing">degree</tspan></text>
<text transform="translate(0,42.0) scale(1.00,1.10)" xml:space="preserve"><tspan x="41.0" textLength="40.0" lengthAdjust="spacing">72-h</tspan> <tspan x="93.0" textLength="132.0" lengthAdjust="spacing">Acc.Precipitation</tspan> <tspan x="237.0" textLength="86.6" lengthAdjust="spacing">(mm/72h)</tspan></text>
<text transform="translate(0,20.0) scale(1.00,1.10)" xml:space="preserve"><tspan x="479.6" textLength="100.4" lengthAdjust="spacing">Initialisation:</tspan> <tspan x="591.6" textLength="96.4" lengthAdjust="spacing">2026.02.13.</tspan> <tspan x="700.0" textLength="18.0" lengthAdjust="spacing">12</tspan> <tspan x="729.0" textLength="28.6" lengthAdjust="spacing">UTC</tspan></text>
<text transform="translate(0,42.0) scale(1.00,1.10)" xml:space="preserve"><tspan x="480.0" textLength="90.0" lengthAdjust="spacing">Valid(+77):</tspan> <tspan x="582.0" textLength="105.0" lengthAdjust="spacing">2026.FEB.16.</tspan> <tspan x="699.0" textLength="18.0" lengthAdjust="spacing">17</tspan> <tspan x="728.0" textLength="29.6" lengthAdjust="spacing">UTC</tspan></text>
</g>
</svg>
</body></html>
